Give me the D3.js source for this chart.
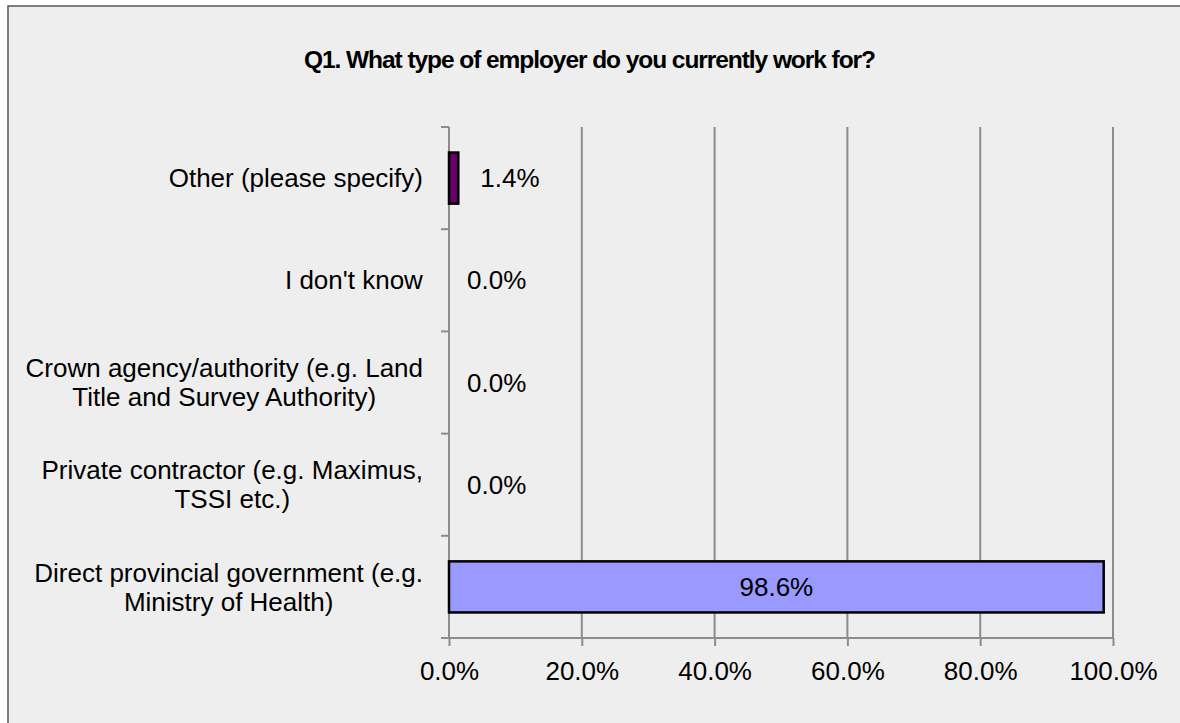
<!DOCTYPE html>
<html><head><meta charset="utf-8">
<script src="https://cdn.jsdelivr.net/npm/d3@7"></script>
<style>
html,body{margin:0;padding:0;background:#ffffff;}
svg{display:block;}
text{font-family:"Liberation Sans",Arial,Helvetica,sans-serif;}
</style></head>
<body>
<script>
const title = "Q1. What type of employer do you currently work for?";
const categories = [
  ["Other (please specify)"],
  ["I don't know"],
  ["Crown agency/authority (e.g. Land", "Title and Survey Authority)"],
  ["Private contractor (e.g. Maximus,", "TSSI etc.)"],
  ["Direct provincial government (e.g.", "Ministry of Health)"]
];
const values = [1.4, 0.0, 0.0, 0.0, 98.6];
const barColors = ["#660066", "#9999ff", "#9999ff", "#9999ff", "#9999ff"];
const xTicks = [0, 20, 40, 60, 80, 100];

const W = 1180, H = 723;
const svg = d3.select("body").append("svg").attr("width", W).attr("height", H);

svg.append("rect").attr("x", 8).attr("y", 6).attr("width", W).attr("height", H)
  .attr("fill", "#eeeeee").attr("stroke", "#555").attr("stroke-width", 1.5);

const tt = svg.append("text").attr("x", 590).attr("y", 68).attr("text-anchor", "middle")
  .attr("font-size", 24.5).attr("font-weight", "bold").attr("fill", "#000")
  .text(title);
tt.attr("textLength", 572).attr("lengthAdjust", "spacing");

const pLeft = 449, pRight = 1113, pTop = 127, pBottom = 638;
const x = d3.scaleLinear().domain([0, 100]).range([pLeft, pRight]);
const y = d3.scaleBand().domain(d3.range(categories.length)).range([pTop, pBottom]).paddingInner(0.5).paddingOuter(0.25);
const yb = d3.scaleBand().domain(d3.range(categories.length)).range([pTop, pBottom]);

const gridColor = "#8c8c8c";
svg.append("g").selectAll("line").data(xTicks.slice(1)).join("line")
  .attr("x1", d => x(d)).attr("x2", d => x(d)).attr("y1", pTop).attr("y2", pBottom)
  .attr("stroke", gridColor).attr("stroke-width", 2);

const xAxis = d3.axisBottom(x).tickValues(xTicks).tickFormat(d => d.toFixed(1) + "%").tickSize(8).tickSizeOuter(0);
const gx = svg.append("g").attr("transform", `translate(0,${pBottom})`).call(xAxis);
gx.select(".domain").attr("stroke", gridColor).attr("stroke-width", 2).attr("d", `M${pLeft - 8},0H${pRight}`);
gx.selectAll(".tick line").attr("stroke", gridColor).attr("stroke-width", 2);
gx.selectAll(".tick text").attr("font-size", 26).attr("fill", "#000").attr("dy", 0).attr("y", 42)
  .style("font-family", "Liberation Sans, Arial, sans-serif");

const boundaries = d3.range(categories.length + 1).map(i => pTop + i * yb.step());
svg.append("line").attr("x1", pLeft).attr("x2", pLeft).attr("y1", pTop).attr("y2", pBottom)
  .attr("stroke", gridColor).attr("stroke-width", 2);
svg.append("g").selectAll("line").data(boundaries).join("line")
  .attr("x1", pLeft - 8).attr("x2", pLeft).attr("y1", d => d).attr("y2", d => d)
  .attr("stroke", gridColor).attr("stroke-width", 2);

const labelRight = 423, fs = 26, lh = 29;
categories.forEach((lines, i) => {
  const cy = yb(i) + yb.bandwidth() / 2;
  const g = svg.append("g");
  const t = g.append("text").attr("font-size", fs).attr("text-anchor", "middle").attr("fill", "#000");
  lines.forEach((ln, j) => {
    t.append("tspan").attr("x", 0).attr("y", (j - (lines.length - 1) / 2) * lh).attr("dy", "0.35em").text(ln);
  });
  const bw = t.node().getBBox().width;
  g.attr("transform", `translate(${labelRight - bw / 2},${cy})`);
});

svg.append("g").selectAll("rect").data(values.map((v, i) => ({v, i})).filter(d => d.v > 0)).join("rect")
  .attr("x", x(0)).attr("y", d => y(d.i)).attr("width", d => x(d.v) - x(0)).attr("height", y.bandwidth())
  .attr("fill", d => barColors[d.i]).attr("stroke", "#000").attr("stroke-width", 2.5);

values.forEach((v, i) => {
  const cy = yb(i) + yb.bandwidth() / 2;
  const lbl = v.toFixed(1) + "%";
  const t = svg.append("text").attr("font-size", 26).attr("fill", "#000").attr("dy", "0.35em").attr("y", cy).text(lbl);
  if (v > 50) {
    t.attr("x", (x(0) + x(v)) / 2).attr("text-anchor", "middle");
  } else {
    t.attr("x", x(v) + (v > 0 ? 22 : 18)).attr("text-anchor", "start");
  }
});
</script>
</body></html>
